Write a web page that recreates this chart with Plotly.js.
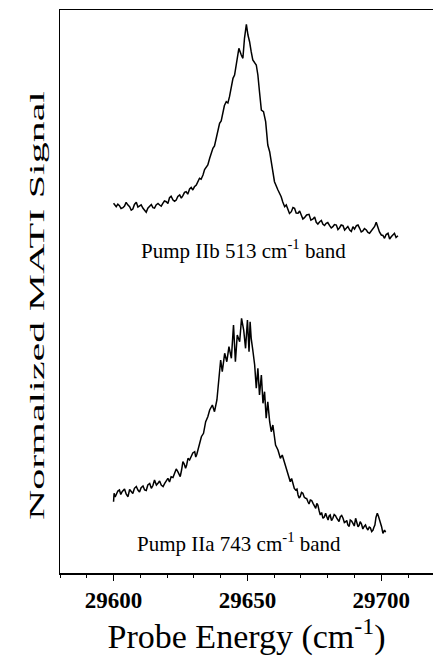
<!DOCTYPE html>
<html>
<head>
<meta charset="utf-8">
<script src="https://cdn.plot.ly/plotly-3.0.1.min.js"></script>
<style>html,body{margin:0;padding:0;background:#fff;overflow:hidden;}#chart{width:433px;height:658px;}</style>
</head>
<body>
<div id="chart"></div>
<script>
// Probe energy (cm-1) and normalized MATI signal (arbitrary units, traces offset vertically)
const iibEnergy = [29600.0,29600.5,29601.0,29601.6,29602.2,29602.8,29603.5,29604.1,29604.7,29605.3,29606.0,29606.6,29607.2,29607.8,29608.5,29609.1,29609.7,29610.3,29611.0,29611.6,29612.2,29612.8,29613.5,29614.1,29614.7,29615.3,29615.9,29616.6,29617.2,29617.8,29618.4,29619.0,29619.7,29620.3,29620.9,29621.5,29622.2,29622.8,29623.4,29624.0,29624.7,29625.3,29625.9,29626.5,29627.1,29627.7,29628.4,29629.0,29629.6,29630.2,29630.9,29631.5,29632.1,29632.7,29633.4,29634.0,29634.6,29635.2,29635.9,29636.5,29637.1,29637.7,29638.4,29639.0,29639.6,29640.2,29640.8,29641.4,29642.1,29642.7,29643.3,29643.9,29644.6,29645.2,29645.8,29646.8,29647.7,29648.3,29648.9,29649.6,29650.2,29650.8,29651.4,29652.0,29653.3,29653.9,29654.5,29655.2,29656.0,29656.8,29657.6,29658.3,29659.3,29660.1,29661.4,29662.0,29662.6,29663.2,29663.9,29664.5,29665.1,29665.7,29666.4,29667.0,29667.6,29668.2,29668.9,29669.5,29670.1,29670.7,29671.3,29672.1,29673.0,29673.7,29674.5,29675.1,29675.7,29676.3,29677.0,29677.6,29678.2,29678.8,29679.4,29680.0,29680.7,29681.3,29681.9,29682.5,29683.2,29683.8,29684.4,29685.0,29685.7,29686.3,29686.9,29687.5,29688.2,29688.8,29689.4,29690.0,29690.7,29691.3,29691.9,29692.5,29693.1,29693.7,29694.4,29695.0,29695.6,29696.2,29696.9,29697.5,29698.1,29698.7,29699.3,29700.0,29700.6,29701.2,29701.8,29702.5,29703.1,29703.7,29704.3,29704.9,29705.5,29706.2];
const iibSignal = [369.7,367.5,366.3,368.8,367.3,364.5,365.3,367.0,370.7,368.2,366.3,362.8,364.0,368.5,370.7,366.0,367.3,368.2,364.7,363.0,360.7,364.8,366.3,368.5,365.3,364.8,368.0,369.5,368.0,366.8,369.7,372.0,371.3,369.5,375.3,376.8,373.0,371.8,373.0,376.5,378.0,374.8,377.3,380.6,381.3,378.8,384.0,385.6,383.0,386.2,388.0,391.0,394.7,393.8,398.0,403.5,406.3,408.0,414.7,420.5,424.7,427.0,434.7,443.5,449.7,452.0,459.7,467.5,471.3,470.0,476.3,487.0,494.7,498.0,508.0,524.7,518.0,514.7,534.7,548.7,538.0,531.3,521.3,513.0,508.0,498.0,481.3,463.0,461.3,451.3,428.0,421.3,404.7,391.3,383.0,379.5,376.3,371.0,366.3,368.0,363.0,359.5,361.3,365.5,364.7,360.0,359.7,362.0,358.0,354.0,355.3,358.0,358.7,352.8,354.0,356.0,350.7,349.0,351.3,352.5,348.7,347.5,349.7,350.5,347.3,345.0,346.3,348.5,348.0,343.5,345.3,348.0,347.3,343.0,344.7,346.5,343.0,341.5,346.3,344.0,347.3,348.0,344.7,341.0,342.0,344.5,343.0,340.5,339.7,342.0,344.7,346.5,350.7,344.7,341.0,338.0,337.5,334.7,338.5,339.7,334.0,336.3,338.5,339.7,335.5,337.3];

const iiaEnergy = [29600.0,29600.2,29600.6,29601.0,29601.6,29602.2,29602.7,29603.2,29603.7,29604.1,29604.7,29605.4,29606.0,29606.6,29607.2,29607.8,29608.5,29609.1,29609.7,29610.3,29611.0,29611.6,29612.2,29612.8,29613.5,29614.1,29614.7,29615.3,29616.0,29616.6,29617.2,29617.8,29618.5,29619.1,29619.7,29620.3,29620.9,29621.5,29622.2,29622.8,29623.4,29624.0,29624.9,29625.4,29625.9,29626.4,29626.9,29627.3,29627.8,29628.4,29629.0,29629.6,29630.3,29630.7,29631.1,29631.9,29632.8,29633.6,29634.4,29635.2,29635.9,29636.9,29637.7,29638.6,29639.4,29640.0,29640.6,29641.5,29642.3,29643.1,29644.0,29644.8,29645.5,29646.2,29647.1,29647.8,29648.6,29649.3,29650.0,29650.6,29651.0,29651.4,29652.0,29652.7,29653.3,29653.9,29654.5,29655.2,29655.8,29656.4,29657.0,29657.6,29658.3,29658.9,29659.5,29660.5,29661.4,29662.3,29663.0,29663.8,29664.5,29665.1,29666.0,29666.5,29667.0,29667.5,29668.0,29668.5,29668.9,29669.3,29669.7,29670.2,29670.7,29671.2,29671.7,29672.1,29672.6,29673.0,29673.5,29674.0,29674.5,29675.0,29675.5,29675.9,29676.3,29676.8,29677.2,29677.7,29678.2,29678.7,29679.2,29679.6,29680.1,29680.5,29680.9,29681.4,29681.9,29682.4,29682.9,29683.3,29683.8,29684.2,29684.7,29685.2,29685.7,29686.2,29686.7,29687.1,29687.5,29688.0,29688.4,29688.9,29689.4,29689.9,29690.4,29690.9,29691.3,29691.7,29692.1,29692.6,29693.1,29693.6,29694.1,29694.5,29695.0,29695.5,29695.9,29696.4,29696.9,29697.2,29697.6,29698.0,29698.5,29698.9,29699.4,29699.7,29700.1,29700.6,29701.2,29701.6];
const iiaSignal = [71.3,79.7,76.0,78.0,82.0,83.0,78.5,81.3,83.5,84.0,79.0,76.3,83.5,81.3,79.5,84.7,86.5,83.0,81.0,85.3,87.0,83.0,82.5,88.0,89.5,84.7,87.5,93.0,88.0,89.7,92.0,88.0,86.5,89.7,93.0,94.7,91.0,96.3,95.5,99.7,104.0,101.3,96.3,103.0,111.3,109.0,104.7,108.0,114.7,113.0,116.3,120.0,121.3,116.0,118.7,128.0,136.3,139.7,151.3,156.3,163.0,168.0,161.3,173.0,201.3,213.0,201.3,219.7,211.3,226.3,214.7,248.0,211.3,238.0,231.3,254.7,243.0,224.7,253.0,221.3,251.3,234.7,223.0,208.0,184.7,204.7,178.0,198.0,169.7,181.3,154.7,171.3,151.3,141.3,148.0,128.0,123.0,114.7,118.0,111.3,104.7,101.3,91.3,94.5,88.0,84.5,83.0,84.0,78.0,75.0,76.3,80.5,79.7,76.0,74.7,74.5,71.3,69.0,73.0,72.5,69.7,66.5,64.7,69.5,68.0,62.0,58.0,60.5,54.7,56.0,59.7,56.5,53.0,57.0,58.0,52.5,54.7,58.5,57.3,55.0,53.0,51.5,56.3,57.5,54.7,50.5,51.3,52.5,48.0,46.5,53.0,52.0,49.7,47.0,54.7,49.0,46.3,47.5,51.3,49.0,44.0,46.5,48.0,45.0,43.0,46.0,45.3,41.5,43.0,45.5,48.0,55.5,59.7,57.0,53.0,49.0,46.3,39.7,43.0,40.7];

const bandLabels = ["Pump IIb 513 cm<sup>-1</sup> band", "Pump IIa 743 cm<sup>-1</sup> band"];
const labelX = [29648.6, 29646.7];
const labelY = [324, 31];

const serif = "Liberation Serif, Times New Roman, serif";

const traces = [
  {x: iibEnergy, y: iibSignal, type: "scatter", mode: "lines", line: {color: "#000", width: 1.5}, hoverinfo: "x+y"},
  {x: iiaEnergy, y: iiaSignal, type: "scatter", mode: "lines", line: {color: "#000", width: 1.5}, hoverinfo: "x+y"}
];

const layout = {
  width: 433, height: 658,
  margin: {l: 60, r: 0, t: 10, b: 85},
  paper_bgcolor: "#fff", plot_bgcolor: "#fff",
  showlegend: false,
  xaxis: {
    range: [29580, 29719.3],
    showline: true, linecolor: "#000", linewidth: 1.5, mirror: true,
    showgrid: false, zeroline: false,
    ticks: "outside", ticklen: 6, tickwidth: 1.3, tickcolor: "#000",
    tickvals: [29600, 29650, 29700],
    ticktext: ["29600", "29650", "29700"],
    minor: {ticks: "outside", ticklen: 3, tickwidth: 1, tickcolor: "#000", dtick: 10, tick0: 29580, showgrid: false},
    tickfont: {family: serif, size: 23, color: "#000", weight: "bold"},
    title: {text: "Probe Energy (cm<sup>-1</sup>)", font: {family: serif, size: 34, color: "#000"}, standoff: 10}
  },
  yaxis: {
    range: [0, 563],
    showline: true, linecolor: "#000", linewidth: 1.2, mirror: false,
    showgrid: false, zeroline: false, showticklabels: false, ticks: "",
    title: {text: "Normalized MATI Signal", font: {family: serif, size: 21, color: "#000"}, standoff: 12}
  },
  annotations: bandLabels.map((t, i) => ({
    x: labelX[i], y: labelY[i], xref: "x", yref: "y", text: t, showarrow: false,
    xanchor: "center", yanchor: "middle",
    font: {family: serif, size: 21, color: "#000"}
  }))
};

Plotly.newPlot("chart", traces, layout, {displayModeBar: false, staticPlot: true}).then(gd => {
  const t = gd.querySelector(".g-ytitle text");
  if (t) {
    const x = parseFloat(t.getAttribute("x")), y = parseFloat(t.getAttribute("y"));
    t.setAttribute("transform", `translate(4,14) rotate(-90,${x},${y}) translate(${x},${y}) scale(2,1) translate(${-x},${-y})`);
  }
});
</script>
</body>
</html>
